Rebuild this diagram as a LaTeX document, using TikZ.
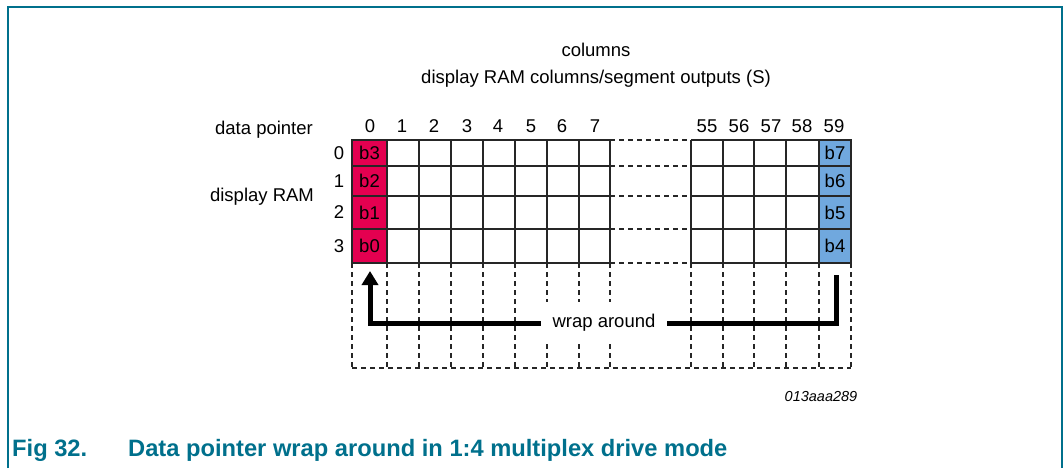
\documentclass[tikz,border=0pt]{standalone}
\usepackage{fontspec}
\setmainfont{Liberation Sans}
\usetikzlibrary{arrows.meta}
\definecolor{nxpred}{RGB}{228,0,80}
\definecolor{nxpblue}{RGB}{112,168,222}
\definecolor{nxpteal}{RGB}{0,112,140}
\begin{document}
\begin{tikzpicture}[x=1pt,y=-1pt,
  lbl/.style={font=\fontsize{18.5}{20}\selectfont, inner sep=0pt},
  gridln/.style={line width=1.3pt, draw=black!85},
  dashln/.style={line width=1.3pt, draw=black!85, dash pattern=on 5pt off 4pt},
  redcell/.style={gridln, fill=nxpred, lbl, minimum width=35pt},
  bluecell/.style={gridln, fill=nxpblue, lbl, minimum width=32pt},
  wrapln/.style={line width=5pt, line join=miter},
  captxt/.style={anchor=base west, inner sep=0pt, text=nxpteal, font=\fontsize{23.7}{26}\selectfont\bfseries},
]
\useasboundingbox (0,0) rectangle (1064,468);
% frame
\draw[nxpteal, line width=1.5pt] (8,468) -- (8,7) -- (1062,7) -- (1062,468);

% headings
\node[lbl, anchor=base] (colh) at (596,57) {columns};
\node[lbl, anchor=base] (colsub) at (596,84) {display RAM columns/segment outputs (S)};
\node[lbl, anchor=base] (dp) at (264,134) {data pointer};
\node[lbl, anchor=base] (dram) at (262,201) {display RAM};

% column numbers
\foreach \x/\t in {370/0,402/1,434/2,467/3,498/4,531/5,562/6,595/7,707/55,739/56,771/57,802/58,834/59}
  \node[lbl, anchor=base] (c\t) at (\x,132.5) {\t};
% row numbers
\foreach \y/\t in {153/0,181/1,212.5/2,246/3}
  \node[lbl] (r\t) at (339,\y) {\t};

% solid grid
\foreach \y in {140,166,196,229,263} {
  \draw[gridln] (352,\y) -- (610,\y);
  \draw[gridln] (691,\y) -- (851,\y);
  \draw[dashln] (610,\y) -- (691,\y);
}
\foreach \x in {352,387,419,451,483,515,547,579,610,691,723,754,786,819,851} {
  \draw[gridln] (\x,140) -- (\x,263);
  \draw[dashln] (\x,263) -- (\x,368);
}
\draw[dashln] (352,368) -- (851,368);

% coloured cells
\node[redcell, minimum height=26pt] (b3) at (369.5,153) {b3};
\node[redcell, minimum height=30pt] (b2) at (369.5,181) {b2};
\node[redcell, minimum height=33pt] (b1) at (369.5,212.5) {b1};
\node[redcell, minimum height=34pt] (b0) at (369.5,246) {b0};
\node[bluecell, minimum height=26pt] (b7) at (835,153) {b7};
\node[bluecell, minimum height=30pt] (b6) at (835,181) {b6};
\node[bluecell, minimum height=33pt] (b5) at (835,212.5) {b5};
\node[bluecell, minimum height=34pt] (b4) at (835,246) {b4};

% wrap-around arrow
\coordinate (ws) at (836.5,275);
\coordinate (we) at (370,271);
\draw[wrapln, -{Triangle[width=16pt,length=14pt]}] (ws) |- (604,323) -| (we);
\node[lbl, fill=white, inner xsep=12pt, inner ysep=12pt] (wrap) at (604,323) {wrap around};

% id
\node[font=\fontsize{14.5}{16}\selectfont\itshape, inner sep=0pt] (id) at (821,397) {013aaa289};

% caption
\node[captxt] (capnum) at (12,456) {Fig 32.};
\node[captxt] (cap) at (128,456) {Data pointer wrap around in 1:4 multiplex drive mode};
\end{tikzpicture}
\end{document}
